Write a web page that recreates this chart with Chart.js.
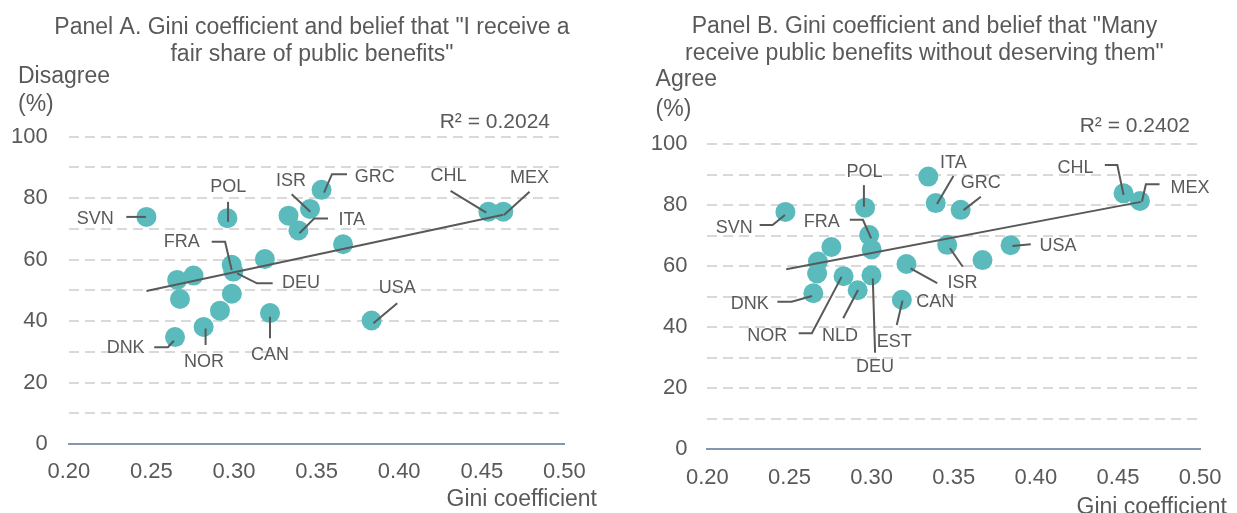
<!DOCTYPE html>
<html>
<head>
<meta charset="utf-8">
<script src="https://cdn.jsdelivr.net/npm/chart.js@4"></script>
<style>
  body { margin: 0; background: #fff; }
  #wrap { position: relative; width: 1237px; height: 513px; }
  .panel { position: absolute; top: 0; height: 513px; }
</style>
</head>
<body>
<div id="wrap">
  <div class="panel" style="left:0;width:618px"><canvas id="chartA"></canvas></div>
  <div class="panel" style="left:618px;width:619px"><canvas id="chartB"></canvas></div>
</div>
<script>
// Panel A: Gini vs "disagree I receive a fair share" (%)
var countriesA = ['SVN','POL','ISR','GRC','','ITA','CHL','MEX','','FRA','DEU','','','','','','','CAN','USA','NOR','DNK'];
var giniA =     [0.247,0.296,0.346,0.353,0.333,0.339,0.454,0.463,0.366,0.2986,0.2996,0.3187,0.2656,0.2755,0.2673,0.2987,0.2915,0.3218,0.3833,0.2816,0.2643];
var disagreeA = [73.9, 73.5, 76.5, 82.7, 74.3, 69.5, 75.6, 75.6, 65.0, 58.3,  56.1,  60.2,  53.4,  54.8,  47.2,  48.9,  43.4,  42.6,  40.2,  38.1,  34.8];
var trendA = [[0.247, 49.8], [0.463, 74.6]];

// Panel B: Gini vs "agree many receive benefits without deserving" (%)
var countriesB = ['SVN','POL','','ITA','GRC','CHL','MEX','FRA','','','ISR','USA','','','','NOR','DEU','CAN','NLD','DNK','EST'];
var giniB =  [0.2475,0.296,0.3345,0.339,0.3542,0.4534,0.4634,0.2985,0.300,0.2755,0.346,0.3846,0.3675,0.2673,0.2668,0.2829,0.2999,0.3212,0.2915,0.2645,0.3184];
var agreeB = [77.8,  79.2, 89.4,  80.7, 78.5,  83.9,  81.4,  70.2,  65.5, 66.3,  67.0, 66.9,  62.0,  61.5,  57.6,  56.7,  57.0,  60.7,  52.1,  51.1,  49.0];
var trendB = [[0.248, 59.0], [0.464, 81.1]];

var xTicks = [0.20, 0.25, 0.30, 0.35, 0.40, 0.45, 0.50];
var yTicks = [0, 20, 40, 60, 80, 100];

// where the country names sit (data units) and their leader lines
var labelPosA = {
  SVN: [0.2160, 73.1], POL: [0.2965, 83.5], ISR: [0.3345, 85.6], GRC: [0.3852, 87.0],
  CHL: [0.4299, 87.3], MEX: [0.4789, 86.7], ITA: [0.3713, 72.9], FRA: [0.2683, 65.8],
  DEU: [0.3406, 52.3], USA: [0.3988, 50.7], CAN: [0.3218, 29.0], NOR: [0.2818, 26.8],
  DNK: [0.2344, 31.1]
};
var leadersA = [
  [[0.2348, 73.9], [0.2467, 73.9]],
  [[0.2964, 78.8], [0.2964, 72.3]],
  [[0.3349, 81.3], [0.3462, 75.6]],
  [[0.3545, 81.8], [0.3593, 87.8], [0.3684, 87.8]],
  [[0.4311, 82.4], [0.4527, 75.3]],
  [[0.4789, 82.1], [0.4634, 74.5]],
  [[0.3569, 73.4], [0.3485, 73.4], [0.3396, 68.6]],
  [[0.2865, 65.8], [0.2946, 65.8], [0.2986, 56.6]],
  [[0.3019, 55.5], [0.3139, 52.3], [0.3234, 52.3]],
  [[0.3988, 45.8], [0.3844, 39.3]],
  [[0.3218, 41.4], [0.3218, 34.4]],
  [[0.2828, 37.6], [0.2828, 32.2]],
  [[0.2517, 31.5], [0.2600, 31.5], [0.2636, 33.6]]
];
var labelPosB = {
  SVN: [0.2163, 72.6], POL: [0.2957, 91.0], FRA: [0.2697, 74.6], ITA: [0.3498, 94.0],
  GRC: [0.3665, 87.2], CHL: [0.4242, 92.1], MEX: [0.4938, 85.6], USA: [0.4135, 66.6],
  ISR: [0.3553, 54.4], CAN: [0.3387, 48.3], EST: [0.3138, 35.2], DEU: [0.3021, 27.0],
  NLD: [0.2807, 37.1], NOR: [0.2365, 37.1], DNK: [0.2258, 47.6]
};
var leadersB = [
  [[0.2318, 73.5], [0.2397, 73.5], [0.2472, 76.8]],
  [[0.2953, 86.6], [0.2953, 79.5]],
  [[0.2867, 75.2], [0.2947, 75.2], [0.2997, 69.1]],
  [[0.3498, 89.6], [0.3398, 80.4]],
  [[0.3665, 82.8], [0.3560, 78.4]],
  [[0.4420, 93.2], [0.4496, 93.2], [0.4534, 83.4]],
  [[0.4753, 86.9], [0.4670, 86.9], [0.4646, 81.2]],
  [[0.3969, 67.2], [0.3857, 66.6]],
  [[0.3477, 65.9], [0.3555, 59.8]],
  [[0.3237, 59.3], [0.3399, 54.4]],
  [[0.3153, 40.7], [0.3188, 48.7]],
  [[0.3021, 31.6], [0.3007, 56.0]],
  [[0.2827, 42.9], [0.2917, 52.2]],
  [[0.2556, 38.0], [0.2636, 38.0], [0.2817, 56.5]],
  [[0.2426, 48.3], [0.2513, 48.3], [0.2637, 50.2]]
];

var FONT = '"Liberation Sans", Arial, sans-serif';
var GREY = '#595959';
var TEAL = '#5bbbbc';

var notes = {
  id: 'notes',
  afterDatasetsDraw: function (chart, args, opts) {
    var ctx = chart.ctx, xs = chart.scales.x, ys = chart.scales.y;
    ctx.save();
    ctx.strokeStyle = GREY;
    ctx.lineWidth = 2;
    opts.leaders.forEach(function (pts) {
      ctx.beginPath();
      pts.forEach(function (p, i) {
        var px = xs.getPixelForValue(p[0]), py = ys.getPixelForValue(p[1]);
        if (i == 0) ctx.moveTo(px, py); else ctx.lineTo(px, py);
      });
      ctx.stroke();
    });
    ctx.fillStyle = GREY;
    ctx.font = '18px ' + FONT;
    ctx.textAlign = 'center';
    ctx.textBaseline = 'middle';
    Object.keys(opts.labels).forEach(function (k) {
      var p = opts.labels[k];
      ctx.fillText(k, xs.getPixelForValue(p[0]), ys.getPixelForValue(p[1]));
    });
    opts.texts.forEach(function (t) {
      ctx.font = t.size + 'px ' + FONT;
      ctx.textAlign = t.align;
      ctx.fillText(t.text, t.x, t.y);
    });
    ctx.restore();
  }
};

function makeChart(id, names, xs, ys, trend, labels, leaders, texts, box) {
  var pts = xs.map(function (x, i) { return {x: x, y: ys[i], name: names[i]}; });
  return new Chart(id, {
    type: 'scatter',
    data: {
      datasets: [
        {
          type: 'line',
          data: trend.map(function (p) { return {x: p[0], y: p[1]}; }),
          borderColor: GREY,
          borderWidth: 2,
          pointRadius: 0,
          fill: false
        },
        {
          data: pts,
          backgroundColor: TEAL,
          borderWidth: 0,
          pointRadius: 10,
          pointHoverRadius: 10
        }
      ]
    },
    options: {
      responsive: true,
      maintainAspectRatio: false,
      animation: false,
      layout: { padding: { left: 0, right: box.right, top: box.top, bottom: 0 } },
      plugins: {
        legend: { display: false },
        tooltip: { enabled: false },
        notes: { labels: labels, leaders: leaders, texts: texts }
      },
      scales: {
        x: {
          type: 'linear',
          min: 0.2, max: 0.5,
          afterBuildTicks: function (s) { s.ticks = xTicks.map(function (v) { return {value: v}; }); },
          afterFit: function (s) { s.height = box.xh; },
          ticks: {
            padding: box.xpad,
            color: GREY,
            font: { size: 22, family: FONT },
            maxRotation: 0,
            callback: function (v) { return Number(v).toFixed(2); }
          },
          grid: { display: false, drawTicks: false },
          border: { display: true, color: '#8497b0', width: 2 }
        },
        y: {
          min: 0, max: 100,
          ticks: {
            stepSize: 10,
            padding: box.ypad,
            color: GREY,
            font: { size: 22, family: FONT },
            callback: function (v) { return yTicks.indexOf(v) >= 0 ? v : ''; }
          },
          afterFit: function (s) { s.width = box.yw; },
          grid: {
            drawTicks: false,
            lineWidth: 2,
            color: function (c) { return c.tick && c.tick.value === 0 ? 'rgba(0,0,0,0)' : '#d9d9d9'; }
          },
          border: { display: false, dash: [10, 6] }
        }
      }
    },
    plugins: [notes]
  });
}

makeChart('chartA', countriesA, giniA, disagreeA, trendA, labelPosA, leadersA, [
  { text: 'Panel A. Gini coefficient and belief that "I receive a', x: 312, y: 28, align: 'center', size: 23 },
  { text: 'fair share of public benefits"', x: 312, y: 55, align: 'center', size: 23 },
  { text: 'Disagree', x: 18, y: 77, align: 'left', size: 23 },
  { text: '(%)', x: 18, y: 105, align: 'left', size: 23 },
  { text: 'R\u00b2 = 0.2024', x: 550, y: 122, align: 'right', size: 21 },
  { text: 'Gini coefficient', x: 597, y: 500, align: 'right', size: 23 }
], { right: 53.6, top: 136.7, xh: 69, yw: 68.8, xpad: 15, ypad: 21 });

makeChart('chartB', countriesB, giniB, agreeB, trendB, labelPosB, leadersB, [
  { text: 'Panel B. Gini coefficient and belief that "Many', x: 306.4, y: 26.7, align: 'center', size: 23 },
  { text: 'receive public benefits without deserving them"', x: 306.4, y: 53.3, align: 'center', size: 23 },
  { text: 'Agree', x: 37.6, y: 80, align: 'left', size: 23 },
  { text: '(%)', x: 37.6, y: 110, align: 'left', size: 23 },
  { text: 'R\u00b2 = 0.2402', x: 572, y: 126.7, align: 'right', size: 21 },
  { text: 'Gini coefficient', x: 458.5, y: 508, align: 'left', size: 23 }
], { right: 30.4, top: 144.3, xh: 64, yw: 89.4, xpad: 15.5, ypad: 20 });
</script>
</body>
</html>
